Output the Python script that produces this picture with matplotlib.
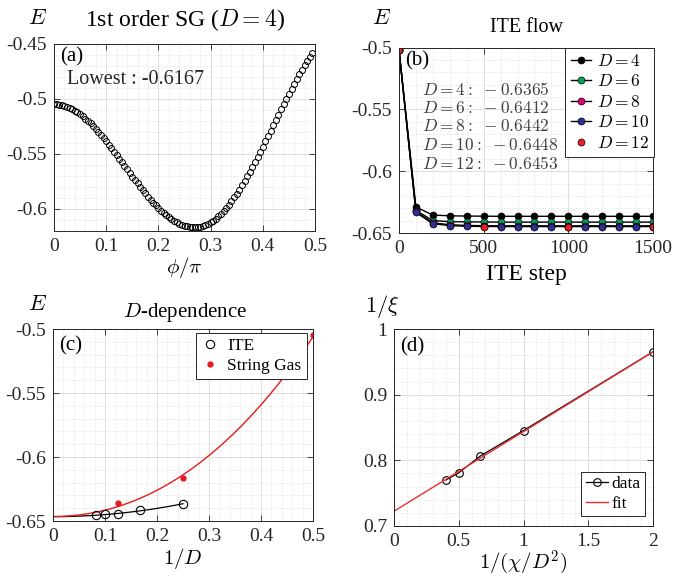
import numpy as np
import matplotlib
matplotlib.use("Agg")
import matplotlib.pyplot as plt
from matplotlib.ticker import FuncFormatter, AutoMinorLocator

plt.rcParams['font.family'] = ['Liberation Serif', 'DejaVu Serif']
plt.rcParams['mathtext.fontset'] = 'cm'
plt.rcParams['axes.unicode_minus'] = False

# (a) energy along phi for the 1st order string gas, D=4
E_sg = [-0.5050, -0.5051, -0.5054, -0.5058, -0.5065, -0.5073, -0.5084, -0.5096, -0.5109, -0.5125,
        -0.5142, -0.5161, -0.5181, -0.5202, -0.5225, -0.5250, -0.5275, -0.5302, -0.5329, -0.5358,
        -0.5387, -0.5418, -0.5448, -0.5480, -0.5512, -0.5544, -0.5576, -0.5609, -0.5641, -0.5673,
        -0.5706, -0.5737, -0.5769, -0.5800, -0.5830, -0.5859, -0.5888, -0.5915, -0.5942, -0.5968,
        -0.5992, -0.6015, -0.6036, -0.6057, -0.6075, -0.6092, -0.6108, -0.6121, -0.6133, -0.6144,
        -0.6152, -0.6159, -0.6163, -0.6166, -0.6167,
        -0.6166, -0.6162, -0.6156, -0.6147, -0.6135, -0.6122, -0.6106, -0.6087, -0.6066, -0.6043,
        -0.6018, -0.5990, -0.5961, -0.5929, -0.5896, -0.5861, -0.5824, -0.5786, -0.5746, -0.5705,
        -0.5662, -0.5618, -0.5573, -0.5528, -0.5481, -0.5434, -0.5387, -0.5339, -0.5290, -0.5242,
        -0.5194, -0.5145, -0.5097, -0.5050, -0.5003, -0.4956, -0.4911, -0.4866, -0.4822, -0.4780,
        -0.4738, -0.4698, -0.4660, -0.4623, -0.4588]
phi = np.linspace(0, 0.495, len(E_sg))

# (b) ITE flow
steps = [0, 100, 200, 300, 400, 500, 600, 700, 800, 900, 1000, 1100, 1200, 1300, 1400, 1500]
E_D4 = [-0.502, -0.6290, -0.6355, -0.6361, -0.6363, -0.6364] + [-0.6365] * 10
E_D6 = [-0.502, -0.6318, -0.6400, -0.6408, -0.6410, -0.6411] + [-0.6412] * 10
E_D8 = [-0.502, -0.6326, -0.6418, -0.6433, -0.6439, -0.6441] + [-0.6442] * 10
E_D10 = [-0.502, -0.6334, -0.6425, -0.6440, -0.6446, -0.6447] + [-0.6448] * 10
steps_D12 = [0, 500, 1000, 1500]
E_D12 = [-0.502, -0.6453, -0.6453, -0.6453]
final_txt = [("4", "-0.6365"), ("6", "-0.6412"), ("8", "-0.6442"), ("10", "-0.6448"), ("12", "-0.6453")]

# (c) D-dependence
invD_ite = [1/12, 1/10, 1/8, 1/6, 1/4]
E_ite = [-0.6453, -0.6448, -0.6442, -0.6412, -0.6365]
invD_sg = [1/8, 1/4, 1/2]
E_sgD = [-0.6360, -0.6167, -0.5050]
fit_ite = [0.1616, 0.0, -0.6466]          # quadratic in 1/D
fit_sg = [0.1616, 0.481, 0.0, -0.6465]    # cubic in 1/D

# (d) correlation length
inv_chi = [0.4, 0.5, 2/3, 1.0, 2.0]
inv_xi = [0.770, 0.781, 0.8066, 0.8454, 0.9653]
fit_xi = [0.1213, 0.7225]

W, H = 673, 576
fig = plt.figure(figsize=(W/100, H/100), dpi=100)

def px_axes(l, t, r, b):
    return fig.add_axes([l/W, 1 - b/H, (r - l)/W, (b - t)/H])

def style(ax, xlim, ylim, xticks, yticks):
    ax.set_xlim(xlim)
    ax.set_ylim(ylim)
    ax.set_xticks(xticks)
    ax.set_yticks(yticks)
    fmt = FuncFormatter(lambda v, p: '%g' % round(v, 6))
    ax.xaxis.set_major_formatter(fmt)
    ax.yaxis.set_major_formatter(fmt)
    ax.xaxis.set_minor_locator(AutoMinorLocator(5))
    ax.yaxis.set_minor_locator(AutoMinorLocator(5))
    ax.grid(True, which='major', color='#dedede', lw=0.7)
    ax.grid(True, which='minor', color='#d4d4d4', lw=0.5, ls=':')
    ax.set_axisbelow(True)
    ax.tick_params(which='both', direction='in', top=True, right=True,
                   labelsize=14, colors='#262626', pad=5)
    ax.tick_params(which='major', length=4, width=0.6)
    ax.tick_params(which='minor', length=0)
    for s in ax.spines.values():
        s.set_color('#262626')
        s.set_linewidth(0.7)

def ftext(x, y, s, **kw):
    fig.text(x/W, 1 - y/H, s, ha='center', va='center', **kw)

# ---- (a)
ax = px_axes(54, 43.5, 315, 231)
ax.plot(phi, E_sg, 'o', mfc='none', mec='k', ms=4.3, mew=0.7)
style(ax, (0, 0.5), (-0.62, -0.45), [0, 0.1, 0.2, 0.3, 0.4, 0.5], [-0.6, -0.55, -0.5, -0.45])
ax.set_xlabel(r'$\phi/\pi$', fontsize=15, labelpad=0)
ax.text(0.025, 0.93, '(a)', transform=ax.transAxes, fontsize=15, va='center')
ax.text(0.05, 0.81, 'Lowest : -0.6167', transform=ax.transAxes, fontsize=14.5, va='center', color='#262626')
ftext(38, 19, r'$E$', fontsize=16)
ftext(185, 20, r'1st order SG ($D=4$)', fontsize=17)

# ---- (b)
ax = px_axes(399, 47.5, 653, 233)
series = [(E_D4, 'k', r'$D=4$'), (E_D6, '#00a651', r'$D=6$'), (E_D8, '#e6007e', r'$D=8$'),
          (E_D10, '#2e3192', r'$D=10$')]
for vals, col, lab in series:
    ax.plot(steps, vals, '-o', color='k', lw=1.0, mfc=col, mec='k', ms=5, mew=0.5, label=lab)
ax.plot(steps_D12, E_D12, 'o', mfc='#ed1c24', mec='k', ms=5, mew=0.5, label=r'$D=12$')
style(ax, (0, 1500), (-0.65, -0.5), [0, 500, 1000, 1500], [-0.65, -0.6, -0.55, -0.5])
ax.set_xlabel('ITE step', fontsize=17, labelpad=5)
ax.text(0.025, 0.93, '(b)', transform=ax.transAxes, fontsize=15, va='center')
for i, (d, v) in enumerate(final_txt):
    ax.text(0.09, 0.77 - 0.1 * i, r'$D=%s:\ %s$' % (d, v),
            transform=ax.transAxes, fontsize=12.5, va='center', color='#404040')
leg = ax.legend(loc='upper right', bbox_to_anchor=(1.005, 0.995), fontsize=12.5, handlelength=1.2,
                handletextpad=0.3, borderpad=0.3, labelspacing=0.25, fancybox=False,
                edgecolor='#262626', framealpha=1, borderaxespad=0)
leg.get_frame().set_linewidth(0.7)
ftext(382, 19, r'$E$', fontsize=16)
ftext(526, 27, 'ITE flow', fontsize=14.5)

# ---- (c)
ax = px_axes(53, 329, 313, 521)
xg = np.linspace(0, 0.25, 60)
ax.plot(xg, np.polyval(fit_ite, xg), color='k', lw=0.9)
xs = np.linspace(0, 0.5, 120)
ax.plot(xs, np.polyval(fit_sg, xs), color='#e8191c', lw=1.0)
ax.plot(invD_ite, E_ite, 'o', mfc='none', mec='k', ms=6, mew=0.8, label='ITE')
ax.plot(invD_sg, E_sgD, '.', color='#e8191c', ms=7, label='String Gas')
style(ax, (0, 0.5), (-0.65, -0.5), [0, 0.1, 0.2, 0.3, 0.4, 0.5], [-0.65, -0.6, -0.55, -0.5])
ax.set_xlabel(r'$1/D$', fontsize=15, labelpad=1)
ax.text(0.025, 0.91, '(c)', transform=ax.transAxes, fontsize=15, va='center')
leg = ax.legend(loc='upper right', bbox_to_anchor=(0.975, 0.98), fontsize=12.5, handlelength=1.0,
                handletextpad=0.5, borderpad=0.3, labelspacing=0.2, fancybox=False,
                edgecolor='#262626', framealpha=1, borderaxespad=0)
leg.get_frame().set_linewidth(0.7)
ftext(38, 306, r'$E$', fontsize=16)
ftext(185, 313, r'$D$-dependence', fontsize=15)

# ---- (d)
ax = px_axes(394, 329, 653, 526)
ax.plot(inv_chi, inv_xi, '-o', color='k', lw=0.9, mfc='none', mec='k', ms=5.5, mew=0.8, label='data')
xf = np.linspace(0, 2, 50)
ax.plot(xf, np.polyval(fit_xi, xf), color='#e8312f', lw=1.0, label='fit')
style(ax, (0, 2), (0.7, 1.0), [0, 0.5, 1, 1.5, 2], [0.7, 0.8, 0.9, 1.0])
ax.set_xlabel(r'$1/(\chi/D^2)$', fontsize=15, labelpad=-1)
ax.text(0.025, 0.91, '(d)', transform=ax.transAxes, fontsize=15, va='center')
leg = ax.legend(loc='lower right', bbox_to_anchor=(0.97, 0.05), fontsize=12.5, handlelength=1.3,
                handletextpad=0.2, borderpad=0.25, labelspacing=0.2, fancybox=False,
                edgecolor='#262626', framealpha=1, borderaxespad=0)
leg.get_frame().set_linewidth(0.7)
ftext(382, 306, r'$1/\xi$', fontsize=16)

fig.savefig('out.png', dpi=100)
